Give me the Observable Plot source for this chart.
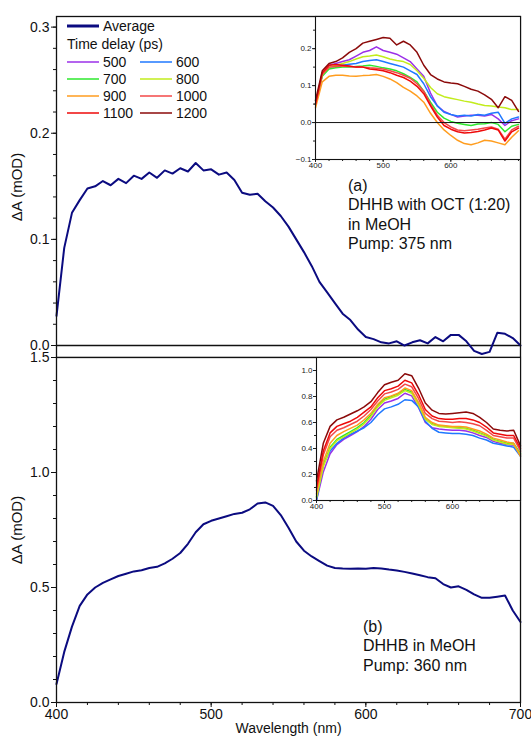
<!DOCTYPE html>
<html><head><meta charset="utf-8">
<script src="https://cdn.jsdelivr.net/npm/d3@7"></script>
<script src="https://cdn.jsdelivr.net/npm/@observablehq/plot@0.6"></script>
<style>
body{margin:0;background:#fff;}
#wrap{position:relative;width:531px;height:738px;font-family:"Liberation Sans",Arial,sans-serif;background:#fff;overflow:hidden}
#wrap > *{position:absolute}
.note{font-size:16px;line-height:19.3px;color:#111;white-space:nowrap}
.main [aria-label="y-axis label"]{font-size:15px}
.main [aria-label="x-axis label"]{font-size:14px}
</style></head><body><div id="wrap"></div>
<script>
const FONT = '"Liberation Sans", Arial, sans-serif';
const NAVY = "#0b0b80";

// main averages (5 nm grid)
const avgWl = d3.range(400, 701, 5);
const avgA = [0.028,0.092,0.125,0.137,0.148,0.150,0.155,0.151,0.157,0.153,0.160,0.157,0.163,0.158,0.165,0.162,0.167,0.164,0.172,0.165,0.166,0.161,0.163,0.156,0.144,0.142,0.143,0.136,0.130,0.122,0.112,0.100,0.088,0.075,0.060,0.050,0.040,0.030,0.024,0.015,0.008,0.006,0.003,0.002,0.004,0.000,0.003,0.005,0.002,0.008,0.004,0.010,0.010,0.004,-0.005,-0.008,-0.006,0.012,0.011,0.007,0.000];
const avgB = [0.08,0.22,0.33,0.42,0.47,0.50,0.52,0.535,0.55,0.56,0.57,0.575,0.585,0.59,0.605,0.625,0.65,0.69,0.74,0.775,0.79,0.80,0.81,0.82,0.825,0.84,0.865,0.87,0.855,0.815,0.76,0.70,0.66,0.635,0.615,0.595,0.585,0.583,0.582,0.583,0.582,0.585,0.583,0.578,0.574,0.568,0.561,0.553,0.545,0.540,0.515,0.50,0.505,0.49,0.47,0.455,0.455,0.46,0.465,0.40,0.35];

// insets (10 nm grid)
const insetWl = d3.range(400, 701, 10);
const delays = [500, 600, 700, 800, 900, 1000, 1100, 1200];
const delayColors = ["#9b30e8","#1f78ff","#2ee82e","#c2ec1c","#ff9d1f","#f34848","#ee0a0a","#8b0a0a"];

const a500 = [0.05,0.13,0.155,0.16,0.165,0.17,0.18,0.19,0.195,0.205,0.195,0.19,0.185,0.175,0.165,0.145,0.125,0.08,0.045,0.03,0.022,0.015,0.018,0.02,0.02,0.018,0.022,0.01,-0.008,0.005,0.01];
const a600 = [0.05,0.13,0.15,0.152,0.155,0.158,0.16,0.165,0.168,0.17,0.165,0.16,0.155,0.15,0.14,0.13,0.105,0.07,0.045,0.028,0.022,0.018,0.02,0.018,0.022,0.02,0.025,0.028,-0.002,0.01,0.015];
const a700 = [0.05,0.125,0.145,0.148,0.15,0.15,0.152,0.153,0.155,0.152,0.148,0.145,0.14,0.132,0.122,0.11,0.085,0.055,0.028,0.012,0.003,-0.002,-0.005,-0.008,-0.004,-0.003,0.0,-0.005,-0.025,-0.01,-0.005];
const a800 = [0.05,0.13,0.15,0.155,0.16,0.165,0.172,0.178,0.18,0.183,0.178,0.172,0.168,0.165,0.157,0.14,0.12,0.095,0.078,0.07,0.066,0.062,0.058,0.055,0.05,0.046,0.045,0.042,0.04,0.035,0.035];
const a900 = [0.04,0.11,0.125,0.128,0.128,0.126,0.125,0.127,0.128,0.13,0.125,0.118,0.108,0.095,0.085,0.072,0.055,0.025,0.0,-0.02,-0.035,-0.048,-0.057,-0.06,-0.055,-0.048,-0.05,-0.055,-0.06,-0.04,-0.022];
const a1000 = [0.05,0.13,0.15,0.152,0.153,0.152,0.15,0.15,0.148,0.147,0.145,0.14,0.135,0.128,0.12,0.105,0.085,0.05,0.02,0.0,-0.012,-0.02,-0.022,-0.02,-0.018,-0.015,-0.012,-0.018,-0.045,-0.02,-0.01];
const a1100 = [0.05,0.135,0.155,0.157,0.155,0.153,0.15,0.15,0.145,0.143,0.14,0.135,0.128,0.122,0.112,0.098,0.078,0.045,0.015,-0.008,-0.018,-0.025,-0.028,-0.027,-0.024,-0.02,-0.015,-0.02,-0.05,-0.025,-0.015];
const a1200 = [0.06,0.14,0.16,0.165,0.175,0.19,0.20,0.215,0.22,0.225,0.23,0.228,0.21,0.22,0.21,0.19,0.155,0.13,0.118,0.11,0.107,0.105,0.098,0.09,0.085,0.075,0.063,0.04,0.07,0.06,0.03];

const b500 = [0.0,0.22,0.36,0.43,0.47,0.5,0.53,0.57,0.625,0.7,0.75,0.765,0.785,0.825,0.805,0.715,0.6,0.56,0.55,0.545,0.54,0.54,0.535,0.52,0.5,0.485,0.455,0.44,0.43,0.425,0.35];
const b600 = [0.0,0.28,0.38,0.44,0.48,0.51,0.535,0.56,0.6,0.66,0.705,0.72,0.74,0.775,0.77,0.72,0.61,0.555,0.525,0.52,0.515,0.515,0.51,0.5,0.48,0.465,0.44,0.43,0.42,0.41,0.34];
const b700 = [0.03,0.27,0.41,0.47,0.5,0.53,0.56,0.6,0.655,0.73,0.78,0.8,0.82,0.855,0.835,0.745,0.63,0.59,0.575,0.57,0.565,0.56,0.555,0.54,0.52,0.5,0.47,0.455,0.44,0.44,0.36];
const b800 = [0.02,0.26,0.4,0.46,0.49,0.52,0.55,0.59,0.645,0.72,0.77,0.79,0.81,0.845,0.825,0.735,0.625,0.585,0.57,0.565,0.56,0.555,0.55,0.535,0.515,0.495,0.465,0.45,0.435,0.43,0.35];
const b900 = [0.05,0.3,0.44,0.5,0.53,0.555,0.58,0.62,0.67,0.74,0.79,0.805,0.825,0.865,0.845,0.755,0.64,0.6,0.58,0.575,0.57,0.57,0.565,0.55,0.535,0.51,0.48,0.465,0.45,0.44,0.34];
const b1000 = [0.08,0.35,0.49,0.54,0.56,0.585,0.61,0.65,0.7,0.765,0.82,0.835,0.855,0.895,0.875,0.785,0.67,0.63,0.61,0.605,0.6,0.605,0.6,0.59,0.575,0.54,0.5,0.49,0.48,0.48,0.38];
const b1100 = [0.1,0.38,0.52,0.57,0.59,0.61,0.64,0.68,0.72,0.79,0.845,0.86,0.88,0.925,0.905,0.815,0.7,0.65,0.63,0.625,0.625,0.63,0.63,0.62,0.6,0.565,0.52,0.51,0.5,0.5,0.4];
const b1200 = [0.15,0.44,0.57,0.62,0.64,0.665,0.69,0.72,0.76,0.83,0.89,0.91,0.925,0.975,0.96,0.865,0.75,0.695,0.67,0.665,0.67,0.675,0.68,0.67,0.64,0.6,0.55,0.54,0.535,0.54,0.42];

// tick labels
const xTicks = [400, 500, 600, 700];
const yTicksTop = [0, 0.1, 0.2, 0.3];
const yTicksBottom = [0, 0.5, 1.0, 1.5];
const insetXTicks = [400, 500, 600];
const insetATicks = [-0.1, 0, 0.1, 0.2];
const insetBTicks = [0, 0.2, 0.4, 0.6, 0.8, 1.0];

const seriesA = [a500,a600,a700,a800,a900,a1000,a1100,a1200];
const seriesB = [b500,b600,b700,b800,b900,b1000,b1100,b1200];

const rowsA = avgWl.map((w, i) => ({w, v: avgA[i]}));
const rowsB = avgWl.map((w, i) => ({w, v: avgB[i]}));
const f1 = d3.format(".1f");
const blank = () => "";

const wrap = document.getElementById("wrap");
function place(el, left, top, cls) { el.style.left = left + "px"; el.style.top = top + "px"; if (cls) el.classList.add(cls); wrap.appendChild(el); return el; }

// top main panel
place(Plot.plot({
  width: 531, height: 357,
  marginLeft: 56, marginRight: 11, marginTop: 16, marginBottom: 0,
  style: {background: "transparent", fontFamily: FONT, fontSize: "14px", color: "#111"},
  x: {domain: [400, 700], axis: null},
  y: {domain: [-0.0113, 0.31], labelArrow: "none"},
  marks: [
    Plot.ruleY([0], {stroke: "#111", strokeWidth: 1.3}),
    Plot.line(rowsA, {x: "w", y: "v", stroke: NAVY, strokeWidth: 2}),
    Plot.axisY(yTicksTop, {tickSize: 5, tickPadding: 2, tickFormat: f1, label: "ΔA (mOD)", labelArrow: "none", labelAnchor: "center", labelOffset: 45}),
    Plot.axisY(d3.range(0, 0.305, 0.02), {tickSize: 3, tickFormat: blank, label: null}),
    Plot.frame({stroke: "#111", strokeWidth: 1.3})
  ]
}), 0, 0, "main");

// bottom main panel
place(Plot.plot({
  width: 531, height: 391,
  marginLeft: 56, marginRight: 11, marginTop: 10, marginBottom: 36,
  style: {background: "transparent", fontFamily: FONT, fontSize: "14px", color: "#111"},
  x: {domain: [400, 700], labelArrow: "none"},
  y: {domain: [0, 1.5], labelArrow: "none"},
  marks: [
    Plot.line(rowsB, {x: "w", y: "v", stroke: NAVY, strokeWidth: 2}),
    Plot.axisY(yTicksBottom, {tickSize: 5, tickPadding: 2, tickFormat: f1, label: "ΔA (mOD)", labelArrow: "none", labelAnchor: "center", labelOffset: 45}),
    Plot.axisY(d3.range(0, 1.55, 0.1), {tickSize: 3, tickFormat: blank, label: null}),
    Plot.axisX(xTicks, {tickSize: 5, tickPadding: 2, label: "Wavelength (nm)", labelArrow: "none", labelAnchor: "center", labelOffset: 30}),
    Plot.axisX(d3.range(400, 701, 20), {tickSize: 3, tickFormat: blank, label: null}),
    Plot.frame({stroke: "#111", strokeWidth: 1.3})
  ]
}), 0, 347, "main");

function inset(series, xMax, yDomain, yTicks, yMinor) {
  return Plot.plot({
    width: 24 + (xMax === 700 ? 204 : 205) + 11, height: 167,
    marginLeft: 24, marginRight: 11, marginTop: 10, marginBottom: 14,
    style: {background: "transparent", fontFamily: FONT, fontSize: "8px", color: "#222"},
    x: {domain: [400, xMax]},
    y: {domain: yDomain},
    marks: [
      Plot.frame({fill: "white"}),
      ...series.map((vals, k) => Plot.line(insetWl.map((w, i) => ({w, v: vals[i]})), {x: "w", y: "v", stroke: delayColors[k], strokeWidth: 1.5})),
      Plot.ruleY([0], {stroke: "#111", strokeWidth: 1}),
      Plot.axisY(yTicks, {tickSize: 3, tickPadding: 1, tickFormat: f1, label: null}),
      Plot.axisY(yMinor, {tickSize: 2, tickFormat: blank, label: null}),
      Plot.axisX(insetXTicks, {tickSize: 3, tickPadding: 0, label: null}),
      Plot.axisX(d3.range(400, 701, 20), {tickSize: 2, tickFormat: blank, label: null}),
      Plot.frame({stroke: "#111", strokeWidth: 1.1})
    ]
  });
}
place(inset(seriesA, 703, [-0.1, 0.287], insetATicks, d3.range(-0.1, 0.28, 0.05)), 291, 6);
place(inset(seriesB, 700, [0, 1.1], insetBTicks, d3.range(0, 1.1, 0.1)), 292, 347);

// legend
const ns = "http://www.w3.org/2000/svg";
const leg = document.createElementNS(ns, "svg");
leg.setAttribute("width", 240); leg.setAttribute("height", 125);
leg.style.fontFamily = FONT; leg.style.fontSize = "14px";
function ln(x1, y, c, w) { const l = document.createElementNS(ns, "line"); l.setAttribute("x1", x1); l.setAttribute("x2", x1 + 32); l.setAttribute("y1", y); l.setAttribute("y2", y); l.setAttribute("stroke", c); l.setAttribute("stroke-width", w); leg.appendChild(l); }
function tx(x, y, s) { const t = document.createElementNS(ns, "text"); t.setAttribute("x", x); t.setAttribute("y", y); t.setAttribute("fill", "#111"); t.textContent = s; leg.appendChild(t); }
ln(67, 26, NAVY, 3); tx(103, 31, "Average");
tx(67, 49, "Time delay (ps)");
delays.forEach((d, i) => {
  const row = Math.floor(i / 2), col = i % 2;
  const y = 62 + row * 17;
  const x = col ? 140 : 67;
  ln(x, y, delayColors[i], 1.5); tx(x + 36, y + 5, String(d));
});
place(leg, 0, 0);

// annotations
const na = document.createElement("div"); na.className = "note";
na.innerHTML = "(a)<br>DHHB with OCT (1:20)<br>in MeOH<br>Pump: 375 nm";
place(na, 348, 176);
const nb = document.createElement("div"); nb.className = "note";
nb.innerHTML = "(b)<br>DHHB in MeOH<br>Pump: 360 nm";
place(nb, 363, 617);
</script></body></html>
